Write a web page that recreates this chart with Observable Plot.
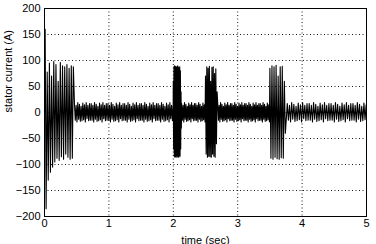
<!DOCTYPE html>
<html><head><meta charset="utf-8">
<script src="https://cdn.jsdelivr.net/npm/d3@7"></script>
<script src="https://cdn.jsdelivr.net/npm/@observablehq/plot@0.6"></script>
<style>body{margin:0;background:#fff}#chart svg{display:block}</style>
</head><body><div id="chart"></div>
<script>
const xTicks = [0, 1, 2, 3, 4, 5];
const yTicks = [-200, -150, -100, -50, 0, 50, 100, 150, 200];

// start-up transient: peak times (s) and peak values (A)
const transientT = [0, 0.010, 0.025, 0.042, 0.058, 0.076, 0.092, 0.110, 0.126, 0.144, 0.160, 0.178, 0.194, 0.212, 0.228, 0.246, 0.262, 0.280, 0.296, 0.314, 0.330, 0.348, 0.364, 0.382, 0.398, 0.416, 0.432, 0.448];
const transientV = [0, 160, -185, 78, -130, 95, -115, 70, -105, 98, -95, 92, -88, 60, -92, 96, -85, 90, -90, 88, -80, 92, -86, 85, -90, 90, -88, 88];

// steady ripple peaks (A), repeated along each steady interval
const ripple = [17, -15, 14, -18, 19, -13, 16, -17, 12, -16, 18, -14, 15, -18, 19, -12, 14, -16, 17, -15];
const bandStart = [0.465, 2.13, 2.69, 3.77];
const bandEnd = [2.0, 2.5, 3.5, 5.0];
const bandStep = [0.013, 0.011, 0.011, 0.017];

// disturbance bursts
const burstStart = [2.0, 2.5, 3.5];
const burstStep = [0.005, 0.01, 0.016];
const burst1 = [60, -70, 88, -84, 90, -86, 87, -85, 89, -83, 86, -86, 88, -84, 90, -85, 87, -86, 85, -83, 88, -84, 80, -70, 40, -30];
const burst2 = [70, -80, 88, -86, 85, -84, 89, -85, 60, -86, 87, -80, 88, -84, 75, -86, 84, -60, 40];
const burst3 = [85, -88, 90, -90, 88, -86, 91, -89, 70, -90, 88, -87, 89, -88, 60, -40];
const bursts = [burst1, burst2, burst3];

const pts = [];
transientT.forEach((t, i) => pts.push({t, v: transientV[i]}));
function band(k) {
  let i = 0;
  for (let t = bandStart[k]; t < bandEnd[k]; t += bandStep[k], i++) pts.push({t, v: ripple[i % ripple.length]});
}
function burst(k) {
  bursts[k].forEach((v, i) => pts.push({t: burstStart[k] + i * burstStep[k], v}));
}
band(0); burst(0); band(1); burst(1); band(2); burst(2); band(3);
pts.sort((a, b) => a.t - b.t);

const font = "'Liberation Sans', Arial, sans-serif";
const chart = Plot.plot({
  width: 376, height: 244,
  marginLeft: 44, marginRight: 10, marginTop: 8, marginBottom: 28,
  x: {domain: [0, 5], ticks: xTicks},
  y: {domain: [-200, 200], ticks: yTicks},
  style: {fontFamily: font, fontSize: "11px", color: "black", background: "white", overflow: "visible"},
  marks: [
    Plot.gridX(xTicks.slice(1, -1), {stroke: "black", strokeOpacity: 0.9, strokeDasharray: "1,2.5"}),
    Plot.gridY(yTicks.slice(1, -1), {stroke: "black", strokeOpacity: 0.9, strokeDasharray: "1,2.5"}),
    Plot.line(pts, {x: "t", y: "v", stroke: "black", strokeWidth: 1.1}),
    Plot.frame({stroke: "black"}),
    Plot.axisX(xTicks, {tickSize: 0, tickPadding: 3, label: null, fill: "black"}),
    Plot.axisY(yTicks, {tickSize: 0, tickPadding: 4, label: null, fill: "black"}),
    Plot.text(["time (sec)"], {frameAnchor: "bottom", dy: 27, fill: "black"}),
    Plot.text(["stator current (A)"], {frameAnchor: "left", dx: -36, rotate: -90, fill: "black"})
  ]
});
document.getElementById("chart").append(chart);
</script>
</body></html>
